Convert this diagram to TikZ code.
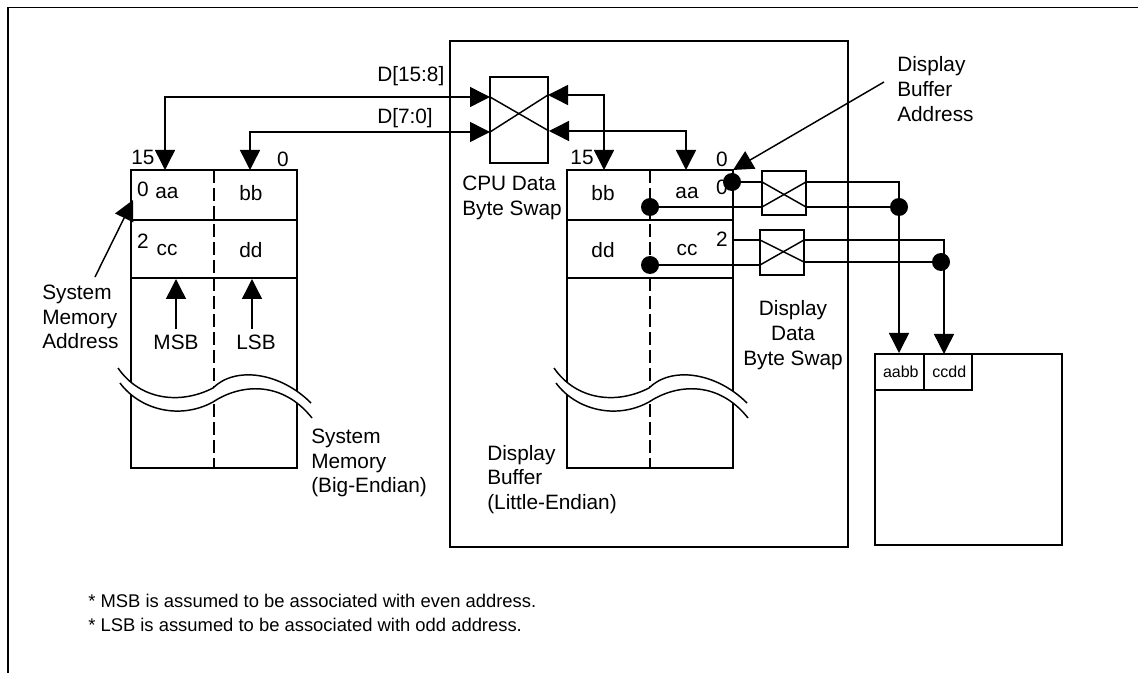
\documentclass[tikz,border=0pt]{standalone}
\usepackage{fontspec}
\setmainfont{Liberation Sans}
\usetikzlibrary{arrows.meta,positioning,calc}
\tikzset{
  conn/.style={line width=1.1pt},
  tip/.style={-{Triangle[length=15pt,width=15pt]}},
  tips/.style={{Triangle[length=15pt,width=15pt]}-{Triangle[length=15pt,width=15pt]}},
  boxline/.style={line width=1.2pt},
  membox/.style={draw,boxline,minimum width=124.5pt,minimum height=223.5pt,inner sep=0pt,outer sep=0pt},
  swapbox/.style={draw,boxline,inner sep=0pt,outer sep=0pt},
  dot/.style={circle,fill=black,minimum size=13.5pt,inner sep=0pt},
  midsplit/.style={line width=1pt,dash pattern=on 10pt off 3.5pt},
  txt/.style={font=\fontsize{15.6pt}{18.6pt}\selectfont,inner sep=0pt,align=left},
  notetxt/.style={font=\fontsize{13.8pt}{18.6pt}\selectfont,inner sep=0pt,align=left},
  small/.style={font=\fontsize{12pt}{14pt}\selectfont,inner sep=0pt}
}
\begin{document}
\begin{tikzpicture}[x=0.75pt,y=-0.75pt]
  \useasboundingbox (0,0) rectangle (1138,673);
  % page frame
  \coordinate (frameA) at (8,673);
  \coordinate (frameB) at (8,7.5);
  \coordinate (frameC) at (1138,7.5);
  \draw[boxline] (frameA) -- (frameB) -- (frameC);

  % boxes
  \node[swapbox,minimum width=298.5pt,minimum height=379.5pt] (dispchip) at (649,294) {};
  \node[membox] (sysmem) at (214,319) {};
  \node[membox] (dispmem) at (650,319) {};
  \node[swapbox,minimum width=43.5pt,minimum height=64.5pt] (cpuswap) at (519,120) {};
  \node[swapbox,minimum width=33pt,minimum height=33pt] (swapone) at (784,193) {};
  \node[swapbox,minimum width=33pt,minimum height=33.75pt] (swaptwo) at (782,252.5) {};
  \node[swapbox,minimum width=140.25pt,minimum height=143.25pt,anchor=north west] (screen) at (875,354) {};
  \node[swapbox,small,minimum width=36.75pt,minimum height=27pt,anchor=north west] (cellab) at (875,354) {\hskip2pt aabb};
  \node[swapbox,small,minimum width=36pt,minimum height=27pt,right=0pt of cellab] (cellcd) {\hskip2pt ccdd};

  % memory rows
  \foreach \m in {sysmem,dispmem} {
    \draw[boxline] ($(\m.north west)+(0,50)$) -- ($(\m.north east)+(0,50)$);
    \draw[boxline] ($(\m.north west)+(0,108)$) -- ($(\m.north east)+(0,108)$);
    \draw[midsplit] (\m.north) -- (\m.south);
  }

  % breaks in the memory columns
  \foreach \m/\dx in {sysmem/0,dispmem/436} {
    \begin{scope}[xshift=\dx*0.75pt]
      \fill[white] (118,368) .. controls (140,400) and (180,405) .. (213,388)
        .. controls (235,366) and (280,372) .. (311,403) -- (312,418)
        .. controls (282,380) and (240,384) .. (213,402)
        .. controls (180,420) and (140,410) .. (120,383) -- cycle;
      \draw[conn] (118,368) .. controls (140,400) and (180,405) .. (213,388)
        .. controls (235,366) and (280,372) .. (311,403);
      \draw[conn] (120,383) .. controls (140,410) and (180,420) .. (213,402)
        .. controls (240,384) and (282,380) .. (312,418);
    \end{scope}
  }

  % swap crosses
  \coordinate (cpuInA) at (490,97);
  \coordinate (cpuInB) at (490,132);
  \coordinate (cpuOutA) at (548,95);
  \coordinate (cpuOutB) at (549,131);
  \draw[conn] (cpuInA) -- (cpuOutB);
  \draw[conn] (cpuInB) -- (cpuOutA);

  \coordinate (oneInA) at (762,182);
  \coordinate (oneInB) at (762,207);
  \coordinate (oneOutA) at (806,182);
  \coordinate (oneOutB) at (806,207);
  \draw[conn] (oneInA) -- (oneOutB);
  \draw[conn] (oneInB) -- (oneOutA);

  \coordinate (twoInA) at (760,240);
  \coordinate (twoInB) at (760,265);
  \coordinate (twoOutA) at (804,240);
  \coordinate (twoOutB) at (804,262);
  \draw[conn] (twoInA) -- (twoOutB);
  \draw[conn] (twoInB) -- (twoOutA);

  % data buses
  \coordinate (sysHi) at (165,170);
  \coordinate (sysLo) at (250,170);
  \coordinate (dispHi) at (604,170);
  \coordinate (dispLo) at (686,170);
  \draw[conn,tips] (cpuInA) -| (sysHi);
  \draw[conn,tips] (cpuInB) -| (sysLo);
  \draw[conn,tips] (cpuOutA) -| (dispHi);
  \draw[conn,tips] (cpuOutB) -| (dispLo);

  % dots and display side wiring
  \node[dot] (dotaddr) at (732,182) {};
  \node[dot] (dotaa) at (650,207) {};
  \node[dot] (dotcc) at (650,265) {};
  \node[dot] (dotab) at (899,207) {};
  \node[dot] (dotcd) at (941,262) {};
  \coordinate (addrtwo) at (733,240);
  \coordinate (scrA) at (899,353);
  \coordinate (scrB) at (944,354);
  \draw[conn] (dotaddr) -- (oneInA);
  \draw[conn] (dotaa) -- (oneInB);
  \draw[conn] (addrtwo) -- (twoInA);
  \draw[conn] (dotcc) -- (twoInB);
  \draw[conn,tip] (oneOutA) -| (scrA);
  \draw[conn] (oneOutB) -- (dotab);
  \draw[conn,tip] (twoOutA) -| (scrB);
  \draw[conn] (twoOutB) -- (dotcd);

  % labels
  \node[txt,anchor=west] (dhi) at (377,76) {D[15:8]};
  \node[txt,anchor=west] (dlo) at (377,118) {D[7:0]};
  \node[txt] (sysfifteen) at (143,157) {15};
  \node[txt] (syszero) at (283,159) {0};
  \node[txt] (sysaddrzero) at (143,189) {0};
  \node[txt] (sysaddrtwo) at (143,241) {2};
  \node[txt] (sysaa) at (167,193) {aa};
  \node[txt] (sysbb) at (251,193) {bb};
  \node[txt] (syscc) at (167,250) {cc};
  \node[txt] (sysdd) at (251,250) {dd};
  \node[txt] (dispfifteen) at (582,157) {15};
  \node[txt] (dispzero) at (722,159) {0};
  \node[txt] (dispaddrzero) at (722,187) {0};
  \node[txt] (dispaddrtwo) at (722,239) {2};
  \node[txt] (dispbb) at (603,193) {bb};
  \node[txt] (dispaa) at (687,193) {aa};
  \node[txt] (dispdd) at (603,250) {dd};
  \node[txt] (dispcc) at (687,250) {cc};
  \node[txt,anchor=west] (cpulabel) at (462,198) {CPU Data\\Byte Swap};
  \node[txt,align=center] (swaplabel) at (793,335) {Display\\Data\\Byte Swap};
  \node[txt,anchor=west] (syslabel) at (311,463) {System\\Memory\\(Big-Endian)};
  \node[txt,anchor=west] (displabel) at (487,479.5) {Display\\Buffer\\(Little-Endian)};
  \node[txt,anchor=west] (addrlabel) at (897,89) {Display\\Buffer\\Address};
  \node[txt,anchor=west] (sysaddr) at (42,317) {System\\Memory\\Address};
  \node[txt] (msb) at (176,342) {MSB};
  \node[txt] (lsb) at (256,342) {LSB};
  \node[notetxt,anchor=west] (note) at (88,613) {* MSB is assumed to be associated with even address.\\* LSB is assumed to be associated with odd address.};

  % pointers
  \coordinate (sysaddrTip) at (133,200);
  \coordinate (dispaddrTip) at (733,170);
  \coordinate (msbTip) at (176,279);
  \coordinate (lsbTip) at (252,279);
  \coordinate (msbEnd) at (176,329);
  \coordinate (lsbEnd) at (252,329);
  \coordinate (sysaddrEnd) at (95,277);
  \coordinate (dispaddrEnd) at (884,82);
  \draw[conn,tip] (sysaddrEnd) -- (sysaddrTip);
  \draw[conn,tip] (dispaddrEnd) -- (dispaddrTip);
  \draw[conn,tip] (msbEnd) -- (msbTip);
  \draw[conn,tip] (lsbEnd) -- (lsbTip);
\end{tikzpicture}
\end{document}
